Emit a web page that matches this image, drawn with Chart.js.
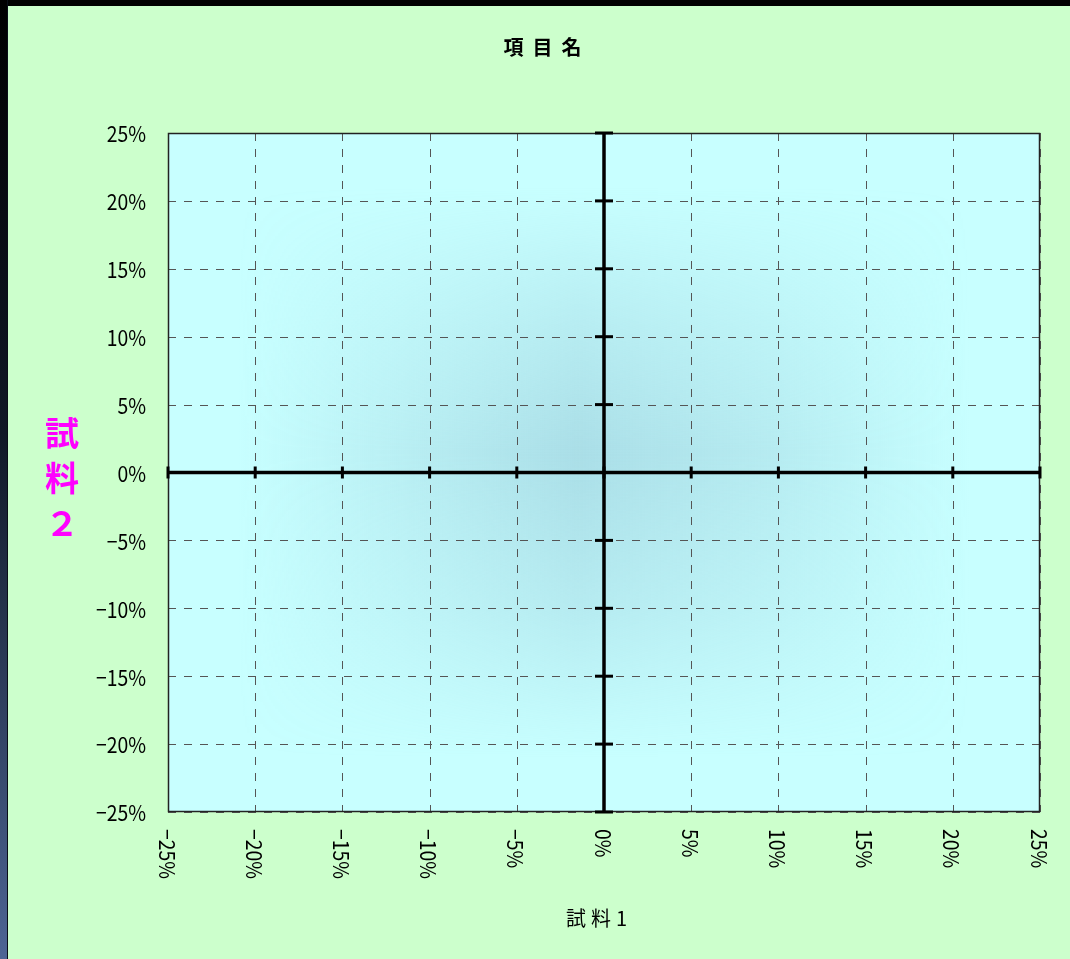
<!DOCTYPE html>
<html>
<head>
<meta charset="utf-8">
<script src="https://cdn.jsdelivr.net/npm/chart.js@4"></script>
<style>
  html, body { margin: 0; padding: 0; background: #ccffcc; }
  #wrap { width: 1070px; height: 959px; }
</style>
</head>
<body>
<div id="wrap"><canvas id="chart"></canvas></div>
<script>
// Axis ranges and tick values (fractions)
const xTicks = [-0.25, -0.20, -0.15, -0.10, -0.05, 0, 0.05, 0.10, 0.15, 0.20, 0.25];
const yTicks = [-0.25, -0.20, -0.15, -0.10, -0.05, 0, 0.05, 0.10, 0.15, 0.20, 0.25];
const chartTitle = '項目名';
const xTitle = '試料1';
const yTitle = ['試', '料', '２'];
// No data points in the reference
const points = [];

const FONT = '"Noto Sans CJK JP", "DejaVu Sans", sans-serif';

const pct = v => {
  const n = Math.round(v * 100);
  return (n < 0 ? '−' + Math.abs(n) : String(n)) + '%';
};

// condensed text, like the narrow gothic in the original
function narrowText(ctx, text, px, py, align) {
  ctx.save();
  ctx.translate(px, py);
  ctx.scale(0.88, 1);
  ctx.textAlign = align;
  ctx.fillText(text, 0, 0);
  ctx.restore();
}

// Background, plot-area fill, grid, zero axes and labels
const decorPlugin = {
  id: 'decor',
  beforeDraw(chart) {
    const { ctx, chartArea: a, scales: { x, y } } = chart;
    const W = chart.width, H = chart.height;
    ctx.save();
    // page background
    ctx.fillStyle = '#ccffcc';
    ctx.fillRect(0, 0, W, H);
    ctx.fillStyle = '#000';
    ctx.fillRect(0, 0, W, 6);
    const lg = ctx.createLinearGradient(0, 0, 0, H);
    lg.addColorStop(0, '#000000');
    lg.addColorStop(0.45, '#101826');
    lg.addColorStop(1, '#4d6595');
    ctx.fillStyle = lg;
    ctx.fillRect(0, 0, 7, H);
    ctx.fillStyle = '#0a0f18';
    ctx.fillRect(7, 0, 1, H);

    // plot area
    ctx.fillStyle = '#c8ffff';
    ctx.fillRect(a.left, a.top, a.width, a.height);
    const cx = x.getPixelForValue(0), cy = y.getPixelForValue(0);
    const hg = ctx.createLinearGradient(a.left, 0, a.right, 0);
    hg.addColorStop(0.08, 'rgba(150,200,215,0)');
    hg.addColorStop(0.3, 'rgba(150,200,215,0.35)');
    hg.addColorStop(0.47, 'rgba(150,200,215,0.6)');
    hg.addColorStop(0.7, 'rgba(150,200,215,0.35)');
    hg.addColorStop(0.92, 'rgba(150,200,215,0)');
    const vg = ctx.createLinearGradient(0, a.top, 0, a.bottom);
    vg.addColorStop(0.08, 'rgba(255,255,255,0)');
    vg.addColorStop(0.3, 'rgba(255,255,255,0.6)');
    vg.addColorStop(0.47, 'rgba(255,255,255,1)');
    vg.addColorStop(0.7, 'rgba(255,255,255,0.6)');
    vg.addColorStop(0.92, 'rgba(255,255,255,0)');
    // horizontal band masked by vertical falloff
    const off = document.createElement('canvas');
    off.width = W; off.height = H;
    const o = off.getContext('2d');
    o.fillStyle = hg;
    o.fillRect(a.left, a.top, a.width, a.height);
    o.globalCompositeOperation = 'destination-in';
    o.fillStyle = vg;
    o.fillRect(a.left, a.top, a.width, a.height);
    ctx.drawImage(off, 0, 0);

    // dashed grid
    ctx.strokeStyle = '#555';
    ctx.lineWidth = 1;
    ctx.setLineDash([8, 8]);
    xTicks.forEach(v => {
      if (v === 0) return;
      const px = Math.round(x.getPixelForValue(v)) + 0.5;
      ctx.beginPath(); ctx.moveTo(px, a.top); ctx.lineTo(px, a.bottom); ctx.stroke();
    });
    yTicks.forEach(v => {
      if (v === 0) return;
      const py = Math.round(y.getPixelForValue(v)) + 0.5;
      ctx.beginPath(); ctx.moveTo(a.left, py); ctx.lineTo(a.right, py); ctx.stroke();
    });
    ctx.setLineDash([]);

    // plot border
    ctx.strokeStyle = '#222';
    ctx.lineWidth = 1.5;
    ctx.strokeRect(a.left + 0.5, a.top + 0.5, a.width - 1, a.height - 1);

    // zero axes
    ctx.strokeStyle = '#000';
    ctx.lineWidth = 3.5;
    ctx.beginPath(); ctx.moveTo(a.left, cy); ctx.lineTo(a.right, cy); ctx.stroke();
    ctx.beginPath(); ctx.moveTo(cx, a.top); ctx.lineTo(cx, a.bottom); ctx.stroke();
    ctx.lineWidth = 3;
    xTicks.forEach(v => {
      const px = x.getPixelForValue(v);
      ctx.beginPath(); ctx.moveTo(px, cy - 6); ctx.lineTo(px, cy + 6); ctx.stroke();
    });
    yTicks.forEach(v => {
      const py = y.getPixelForValue(v);
      ctx.beginPath(); ctx.moveTo(cx - 9, py); ctx.lineTo(cx + 9, py); ctx.stroke();
    });

    // tick labels
    ctx.fillStyle = '#000';
    ctx.font = '22px ' + FONT;
    ctx.textBaseline = 'middle';
    yTicks.forEach(v => narrowText(ctx, pct(v), 146, y.getPixelForValue(v) + 1, 'right'));
    xTicks.forEach(v => {
      ctx.save();
      ctx.translate(x.getPixelForValue(v) - 1, a.bottom + 17);
      ctx.rotate(Math.PI / 2);
      narrowText(ctx, pct(v), 0, 0, 'left');
      ctx.restore();
    });

    // titles
    ctx.textAlign = 'center';
    ctx.font = 'bold 20px ' + FONT;
    ctx.letterSpacing = '9px';
    ctx.fillText(chartTitle, 547, 47);
    ctx.font = '20px ' + FONT;
    ctx.letterSpacing = '5px';
    ctx.fillText(xTitle, 599, 918);
    ctx.letterSpacing = '0px';
    ctx.fillStyle = '#ff00ff';
    ctx.font = 'bold 34px ' + FONT;
    yTitle.forEach((c, i) => ctx.fillText(c, 62, 433 + i * 45));
    ctx.restore();
  }
};

new Chart(document.getElementById('chart'), {
  type: 'scatter',
  data: {
    datasets: [{
      data: points,
      backgroundColor: '#000080',
      pointRadius: 4
    }]
  },
  options: {
    responsive: true,
    maintainAspectRatio: false,
    animation: false,
    layout: { padding: { left: 168, top: 133, right: 30, bottom: 147 } },
    plugins: {
      legend: { display: false },
      tooltip: { enabled: false }
    },
    scales: {
      x: { type: 'linear', min: -0.25, max: 0.25, display: false },
      y: { type: 'linear', min: -0.25, max: 0.25, display: false }
    }
  },
  plugins: [decorPlugin]
});
</script>
</body>
</html>
